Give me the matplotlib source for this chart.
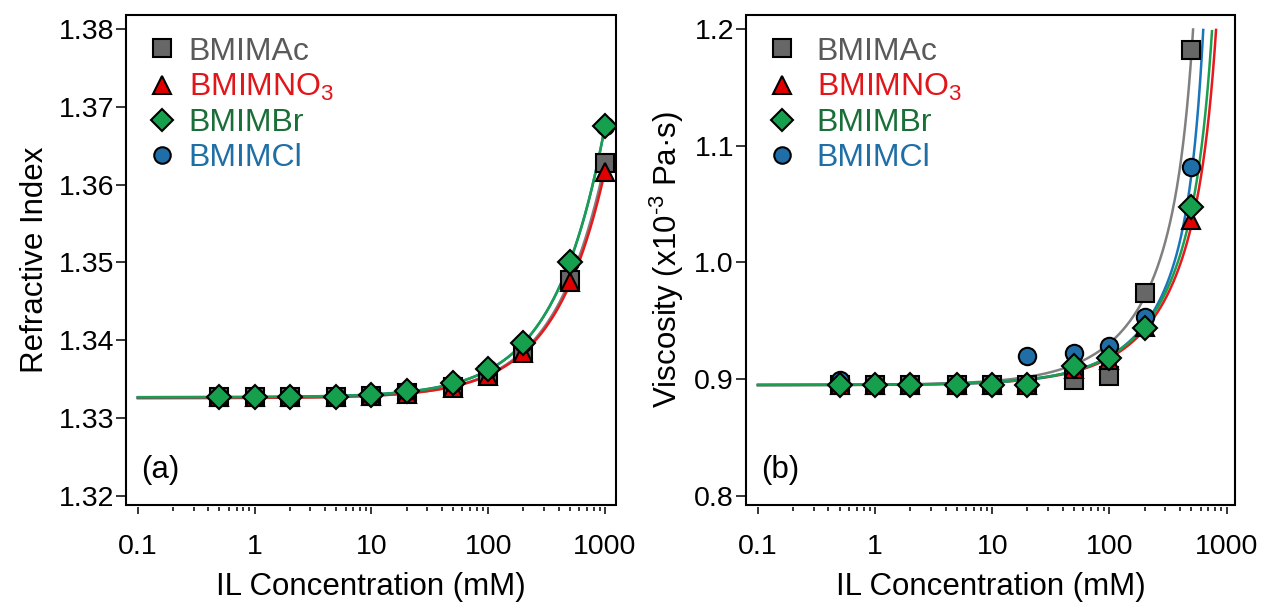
import numpy as np
import matplotlib
matplotlib.use("Agg")
import matplotlib.pyplot as plt
from matplotlib.lines import Line2D
from matplotlib.patches import Rectangle
from matplotlib.ticker import FixedLocator, NullFormatter

plt.rcParams['font.family'] = ['Liberation Sans', 'DejaVu Sans']
plt.rcParams['mathtext.fontset'] = 'custom'
plt.rcParams['mathtext.rm'] = 'Liberation Sans'
plt.rcParams['mathtext.it'] = 'Liberation Sans:italic'
plt.rcParams['mathtext.bf'] = 'Liberation Sans:bold'

# ---------------- data ----------------
series_names = ['BMIMAc', 'BMIMNO$_3$', 'BMIMBr', 'BMIMCl']

conc_a = [0.5, 1, 2, 5, 10, 20, 50, 100, 200, 500, 1000]
ri_ac  = [1.3327, 1.3327, 1.3327, 1.3327, 1.3328, 1.3332, 1.3340, 1.3355, 1.3385, 1.3477, 1.3628]
ri_no3 = [1.3327, 1.3327, 1.3327, 1.3327, 1.3328, 1.3331, 1.3339, 1.3354, 1.3384, 1.3475, 1.3616]
ri_br  = [1.3327, 1.3327, 1.3327, 1.3327, 1.3330, 1.3335, 1.3345, 1.3363, 1.3396, 1.3501, 1.3675]
ri_cl  = [1.3327, 1.3327, 1.3327, 1.3327, 1.3330, 1.3335, 1.3345, 1.3363, 1.3396, 1.3501, 1.3675]

conc_b = [0.5, 1, 2, 5, 10, 20, 50, 100, 200, 500]
visc_ac  = [0.895, 0.895, 0.895, 0.895, 0.895, 0.895, 0.8993, 0.9027, 0.9735, 1.1818]
visc_no3 = [0.895, 0.895, 0.895, 0.895, 0.895, 0.895, 0.9090, 0.9160, 0.9450, 1.0363]
visc_br  = [0.895, 0.895, 0.895, 0.895, 0.895, 0.895, 0.9113, 0.9179, 0.9436, 1.0477]
visc_cl  = [0.899, 0.895, 0.895, 0.895, 0.895, 0.9199, 0.9222, 0.9287, 0.9535, 1.0819]

# viscosity fit parameters: eta = eta0 + a*c + b*(exp(c/t) - 1)
fit_eta0 = [0.895, 0.895, 0.895, 0.895]
fit_a    = [3.2e-4, 2.1e-4, 2.2e-4, 2.2e-4]
fit_b    = [0.0036, 0.00398, 0.00402, 0.00298]
fit_t    = [141, 230, 211, 157]

xticks = [0.1, 1, 10, 100, 1000]
xtick_labels = ['0.1', '1', '10', '100', '1000']
yticks_a = [1.32, 1.33, 1.34, 1.35, 1.36, 1.37, 1.38]
yticks_b = [0.8, 0.9, 1.0, 1.1, 1.2]

# ---------------- styles ----------------
markers = ['s', '^', 'D', 'o']
msizes = [13, 13, 12, 12.5]
face_colors = ['#676767', '#e00000', '#16a04e', '#1f6ea8']
line_colors = ['#808080', '#e8191c', '#1a9e50', '#1b75bb']
text_colors = ['#5a5a5a', '#e0161b', '#1a6e37', '#1f6ea6']
draw_order = [0, 1, 3, 2]

fig = plt.figure(figsize=(12.68, 6.05), dpi=100)
ax1 = fig.add_axes([0.0997, 0.1661, 0.3861, 0.8091])
ax2 = fig.add_axes([0.5887, 0.1661, 0.3856, 0.8091])

xfine = np.logspace(-1, 3, 3000)

# panel a
ri_data = [ri_ac, ri_no3, ri_br, ri_cl]
for i in draw_order:
    k, n0 = np.polyfit(conc_a, ri_data[i], 1)
    ax1.plot(xfine, n0 + k * xfine, color=line_colors[i], lw=1.8, zorder=2)
for i in draw_order:
    ax1.plot(conc_a, ri_data[i], linestyle='none', marker=markers[i], ms=msizes[i],
             mfc=face_colors[i], mec='black', mew=1.5, zorder=3)

# panel b
visc_data = [visc_ac, visc_no3, visc_br, visc_cl]
for i in draw_order:
    y = fit_eta0[i] + fit_a[i] * xfine + fit_b[i] * (np.exp(xfine / fit_t[i]) - 1)
    y = np.where(y <= 1.2, y, np.nan)
    ax2.plot(xfine, y, color=line_colors[i], lw=1.8, zorder=2)
for i in draw_order:
    ax2.plot(conc_b, visc_data[i], linestyle='none', marker=markers[i], ms=msizes[i],
             mfc=face_colors[i], mec='black', mew=1.5, zorder=3)

minor_ticks = [m * d for d in [0.1, 1, 10, 100] for m in range(2, 10)]

for ax, yt, ylim, ylab, tag, yfmt, htp in [
        (ax1, yticks_a, (1.3189, 1.3818), 'Refractive Index', '(a)', '{:.2f}', 0.35),
        (ax2, yticks_b, (0.7927, 1.2118), r'Viscosity (x10$^{\text{-3}}$ Pa·s)', '(b)', '{:.1f}', 0.6)]:
    ax.set_xscale('log')
    ax.set_xlim(0.0798, 1242 if ax is ax1 else 1191)
    ax.set_ylim(*ylim)
    ax.set_xticks(xticks)
    ax.set_xticklabels(xtick_labels)
    ax.set_yticks(yt)
    ax.set_yticklabels([yfmt.format(v) for v in yt])
    ax.xaxis.set_minor_locator(FixedLocator(minor_ticks))
    ax.xaxis.set_minor_formatter(NullFormatter())
    ax.tick_params(axis='x', which='major', direction='out', length=5, width=1.1,
                   labelsize=20.5, pad=14)
    ax.tick_params(axis='x', which='minor', direction='out', length=3, width=1.1)
    ax.tick_params(axis='y', which='major', direction='out', length=7, width=1.1,
                   labelsize=20.5, pad=2)
    for s in ax.spines.values():
        s.set_visible(False)
    ax.spines['bottom'].set_position(('outward', 2))
    ax.add_patch(Rectangle((0, 0), 1, 1, transform=ax.transAxes, fill=False,
                           lw=1.5, ec='black', clip_on=False, zorder=5))
    ax.set_xlabel('IL Concentration (mM)', fontsize=22.5, labelpad=9)
    ax.set_ylabel(ylab, fontsize=22.5, labelpad=6)
    ax.text(0.03, 0.07, tag, transform=ax.transAxes, fontsize=22.5,
            ha='left', va='center')

    handles = [Line2D([], [], linestyle='none', marker=markers[i], ms=msizes[i] * 0.95,
                      mfc=face_colors[i], mec='black', mew=1.5) for i in range(4)]
    leg = ax.legend(handles, series_names, loc='upper left', bbox_to_anchor=(0.0, 0.995),
                    frameon=False, fontsize=23, handlelength=1.0, handletextpad=htp,
                    labelspacing=0.16, borderaxespad=0.3, borderpad=0.3)
    for t, c in zip(leg.get_texts(), text_colors):
        t.set_color(c)

fig.savefig('out.png', dpi=100)
